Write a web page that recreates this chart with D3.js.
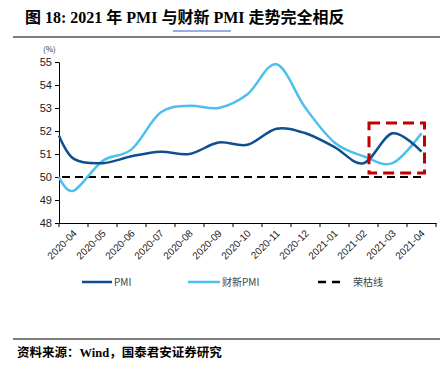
<!DOCTYPE html>
<html><head><meta charset="utf-8">
<script src="https://cdn.jsdelivr.net/npm/d3@7"></script>
<style>body{margin:0;background:#fff}svg{display:block}</style>
</head><body>
<svg id="c" width="440" height="371"></svg>
<script>
const months = ["start","2020-04","2020-05","2020-06","2020-07","2020-08","2020-09","2020-10","2020-11","2020-12","2021-01","2021-02","2021-03","2021-04"];
const tickLabels = ["2020-04","2020-05","2020-06","2020-07","2020-08","2020-09","2020-10","2020-11","2020-12","2021-01","2021-02","2021-03","2021-04"];
const pmi = [51.8,50.8,50.6,50.9,51.1,51.0,51.5,51.4,52.1,51.9,51.3,50.6,51.9,51.1];
const caixin = [50.0,49.4,50.7,51.2,52.8,53.1,53.0,53.6,54.9,53.0,51.5,50.9,50.6,51.9];
const boomBust = 50;
const yTicks = [48,49,50,51,52,53,54,55];

const svg = d3.select("#c");
const L = 59, R = 436, T = 62, B = 223;
const x = d3.scaleBand().domain(tickLabels).range([L, R]);
const xc = m => {
  const i = tickLabels.indexOf(m);
  return i >= 0 ? x(m) + x.bandwidth()/2 : L;
};
const y = d3.scaleLinear().domain([48,55]).range([B, T]);

// Title
svg.append("text").attr("x",25).attr("y",23)
  .attr("font-family","'Liberation Serif','Noto Sans CJK SC',serif")
  .attr("font-weight","bold").attr("font-size",16).attr("fill","#000")
  .text("图 18: 2021 年 PMI 与财新 PMI 走势完全相反");
svg.append("line").attr("x1",173).attr("x2",231).attr("y1",31).attr("y2",31)
  .attr("stroke","#2f5fd0").attr("stroke-width",1);
svg.append("line").attr("x1",13).attr("x2",440).attr("y1",37).attr("y2",37)
  .attr("stroke","#000").attr("stroke-width",1);

// (%) label
svg.append("text").attr("x",43).attr("y",52).attr("font-family","'Noto Sans CJK SC',sans-serif")
  .attr("font-size",8).attr("fill","#333").text("(%)");

// Axes
const yAxis = d3.axisLeft(y).tickValues(yTicks).tickSize(4).tickFormat(d3.format("d"));
const gy = svg.append("g").attr("transform",`translate(${L},0)`).call(yAxis);
gy.select(".domain").attr("stroke","#000");
gy.selectAll(".tick line").attr("stroke","#000");
gy.selectAll("text").attr("font-family","'Liberation Sans',Arial,sans-serif").attr("font-size",11).attr("fill","#222").attr("x",-7);

const xAxis = d3.axisBottom(x).tickSize(0).tickSizeOuter(0);
const gx = svg.append("g").attr("transform",`translate(0,${B})`).call(xAxis);
gx.select(".domain").attr("stroke","#000");
gx.selectAll(".tick text")
  .attr("font-family","'Liberation Sans',Arial,sans-serif").attr("font-size",10).attr("fill","#222")
  .attr("text-anchor","end").attr("dy",0).attr("y",0)
  .attr("transform","translate(4,11) rotate(-45)");
// boundary ticks
const bounds = tickLabels.map(d => x(d)).concat([R]);
svg.append("g").selectAll("line").data(bounds).join("line")
  .attr("x1",d=>d).attr("x2",d=>d).attr("y1",B).attr("y2",B+4).attr("stroke","#000");

// 50 line
svg.append("line").attr("x1",L+3).attr("x2",xc("2021-04")).attr("y1",y(boomBust)).attr("y2",y(boomBust))
  .attr("stroke","#000").attr("stroke-width",2).attr("stroke-dasharray","8,5");

const line = d3.line().x((d,i)=>xc(months[i])).y(d=>y(d)).curve(d3.curveCardinal.tension(0));
const g = svg.append("g");
g.append("path").datum(caixin).attr("d",line).attr("fill","none").attr("stroke","#4dbfef").attr("stroke-width",2.5);
g.append("path").datum(pmi).attr("d",line).attr("fill","none").attr("stroke","#0d4f8f").attr("stroke-width",2.5);

// red dashed box
const bx0 = x("2021-03") - 9, bx1 = xc("2021-04") + 3;
svg.append("rect").attr("x",bx0).attr("y",y(52.35)).attr("width",bx1-bx0).attr("height",y(50.17)-y(52.35))
  .attr("fill","none").attr("stroke","#c00000").attr("stroke-width",3).attr("stroke-dasharray","11,6");

// Legend
const lg = svg.append("g").attr("font-family","'Noto Sans CJK SC',sans-serif").attr("font-size",10).attr("fill","#444");
const legendItems = [
  {name:"PMI", x1:82, x2:112, color:"#0d4f8f", dash:null, tx:114},
  {name:"财新PMI", x1:188, x2:220, color:"#4dbfef", dash:null, tx:222},
  {name:"荣枯线", x1:318, x2:340, color:"#000", dash:"8,6", tx:353}
];
legendItems.forEach(it=>{
  lg.append("line").attr("x1",it.x1).attr("x2",it.x2).attr("y1",282).attr("y2",282)
    .attr("stroke",it.color).attr("stroke-width",2.5).attr("stroke-dasharray",it.dash);
  lg.append("text").attr("x",it.tx).attr("y",286).text(it.name);
});

// Bottom
svg.append("line").attr("x1",13).attr("x2",440).attr("y1",339).attr("y2",339).attr("stroke","#000").attr("stroke-width",1);
svg.append("text").attr("x",17).attr("y",357)
  .attr("font-family","'Liberation Serif','Noto Sans CJK SC',serif").attr("font-weight","bold").attr("font-size",12.5)
  .text("资料来源：Wind，国泰君安证券研究");
</script>
</body></html>
